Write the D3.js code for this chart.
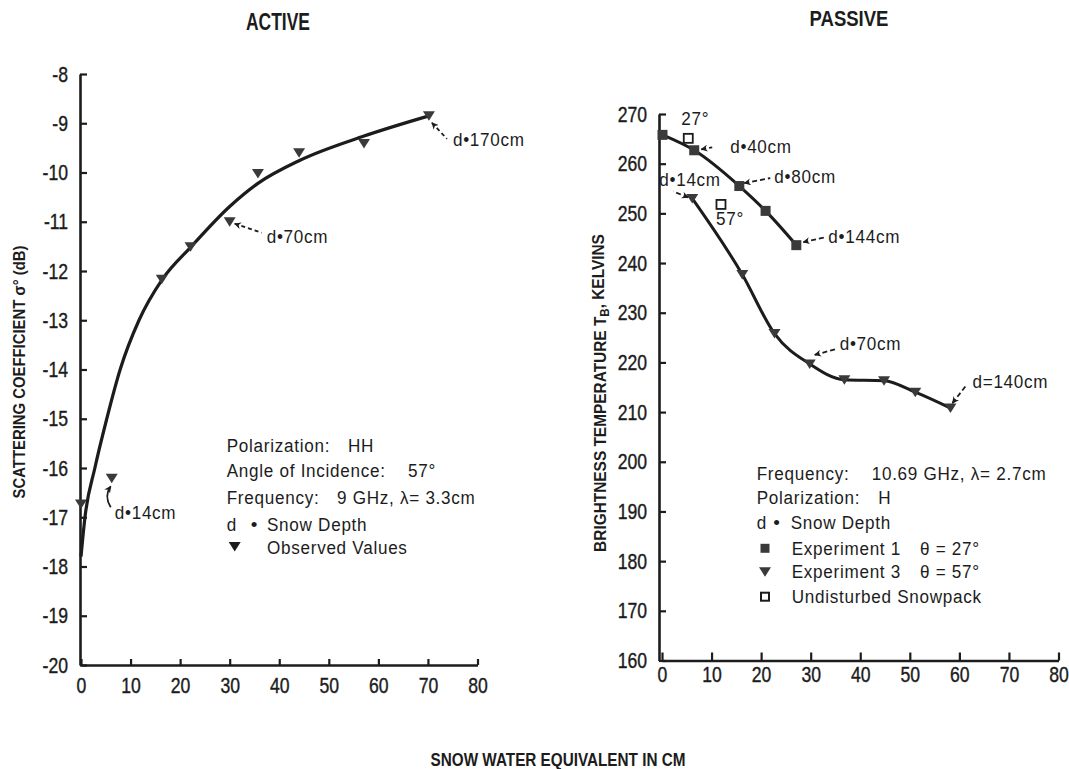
<!DOCTYPE html>
<html><head><meta charset="utf-8">
<script src="https://cdn.jsdelivr.net/npm/d3@7"></script>
<style>
html,body{margin:0;padding:0;background:#fff;}
svg{display:block;}
</style></head><body>
<svg id="chart" width="1069" height="769"></svg>
<script>
// ---------------- data ----------------
const xTicks = [0, 10, 20, 30, 40, 50, 60, 70, 80];
const activeYTicks = [-8, -9, -10, -11, -12, -13, -14, -15, -16, -17, -18, -19, -20];
const passiveYTicks = [160, 170, 180, 190, 200, 210, 220, 230, 240, 250, 260, 270];

// ACTIVE: observed scattering coefficient (dB) vs snow water equivalent (cm)
const activeSWE   = [0, 6.2, 16.3, 22.1, 30.0, 35.7, 44.0, 57.1, 70.2];
const activeSigma = [-16.73, -16.21, -12.17, -11.51, -11.0, -10.02, -9.6, -9.41, -8.85];
// ACTIVE: fitted curve
const activeFitSWE   = [0, 0.8, 2.8, 5.2, 7.9, 11.7, 16.4, 22.2, 30.0, 35.7, 44.2, 57.1, 70.2];
const activeFitSigma = [-17.8, -17, -16, -15, -14, -13, -12.17, -11.51, -10.69, -10.22, -9.75, -9.26, -8.85];

// PASSIVE: brightness temperature (K)
const exp1SWE = [0.1, 6.5, 15.6, 20.9, 27.1];
const exp1TB  = [265.8, 262.7, 255.5, 250.5, 243.6];
const exp3SWE = [6.1, 16.2, 22.7, 29.8, 36.8, 44.8, 51.1, 58.2];
const exp3TB  = [253.0, 237.7, 225.8, 219.7, 216.5, 216.3, 214.0, 210.8];
const undisturbedSWE = [5.3, 11.9];
const undisturbedTB  = [265.1, 251.8];
const undisturbedAngles = ["27°", "57°"];

// depth notes and the index of the point each one marks
const activeNotes = ["d•14cm", "d•70cm", "d•170cm"];
const activeNoteIdx = [1, 4, 8];
const exp1Notes = ["d•40cm", "d•80cm", "d•144cm"];
const exp1NoteIdx = [1, 2, 4];
const exp3Notes = ["d•14cm", "d•70cm", "d=140cm"];
const exp3NoteIdx = [0, 3, 7];

const activeLegend = ["Polarization:", "Angle of Incidence:", "Frequency:", "d", "Observed Values"];
const activeLegendVals = ["HH", "57°", "9 GHz, λ= 3.3cm", "Snow Depth", ""];
const passiveLegend = ["Frequency:", "Polarization:", "d", "Experiment 1", "Experiment 3", "Undisturbed Snowpack"];
const passiveLegendVals = ["10.69 GHz, λ= 2.7cm", "H", "Snow Depth", "θ = 27°", "θ = 57°", ""];

// ---------------- drawing ----------------
const FONT = "'Liberation Sans', Arial, sans-serif";
const INK = "#1c1c1c";
const MARK = "#3a3a3a";
const svg = d3.select("#chart");
svg.append("rect").attr("width", 1069).attr("height", 769).attr("fill", "#fff");

const defs = svg.append("defs");
defs.append("marker").attr("id", "arr").attr("viewBox", "0 0 10 10")
  .attr("refX", 9).attr("refY", 5).attr("markerWidth", 7).attr("markerHeight", 7)
  .attr("markerUnits", "userSpaceOnUse").attr("orient", "auto-start-reverse")
  .append("path").attr("d", "M10,5 L0,0 L3,5 L0,10 Z").attr("fill", INK);

const triPath = "M-6,-4.5 L6,-4.5 L0,5 Z";
const sqPath = "M-5,-5 L5,-5 L5,5 L-5,5 Z";

// narrow text helper
function T(x, y, str, o = {}) {
  const g = svg.append("g").attr("transform",
    `translate(${x},${y})` + (o.rot ? ` rotate(${o.rot})` : "") + ` scale(${o.sx ?? 0.9},1)`);
  const t = g.append("text").attr("dy", o.dy ?? "0.35em")
    .attr("font-family", FONT).attr("font-size", o.size ?? 19)
    .attr("letter-spacing", o.ls ?? 0.8).attr("text-anchor", o.anchor ?? "start")
    .attr("font-weight", o.weight ?? 400).attr("fill", INK).text(str);
  return {g, t};
}
// bold label fitted to a measured width
function boldLabel(cx, cy, str, size, width, rot, build) {
  const g = svg.append("g");
  const t = g.append("text").attr("dy", "0.35em").attr("text-anchor", "middle")
    .attr("font-family", FONT).attr("font-weight", 700).attr("font-size", size).attr("fill", INK).text(str);
  if (build) build(t);
  const w = t.node().getComputedTextLength();
  g.attr("transform", `translate(${cx},${cy})` + (rot ? ` rotate(${rot})` : "") + ` scale(${width / w},1)`);
}

function styleAxis(g, fs) {
  g.select(".domain").attr("stroke", INK).attr("stroke-width", 2.6);
  g.selectAll(".tick line").attr("stroke", INK).attr("stroke-width", 2.2);
  g.selectAll(".tick text").each(function () {
    const s = d3.select(this);
    const x = +s.attr("x") || 0, y = +s.attr("y") || 0;
    s.attr("x", 0).attr("y", 0).attr("transform", `translate(${x},${y}) scale(0.8,1)`)
      .attr("font-family", FONT).attr("font-size", fs).attr("fill", INK)
      .attr("stroke", INK).attr("stroke-width", 0.4);
  });
}

// ---- ACTIVE ----
const xA = d3.scaleLinear().domain([0, 80]).range([81, 477.5]);
const yA = d3.scaleLinear().domain([-20, -8]).range([665, 74]);

svg.append("g").attr("transform", `translate(${xA(0) - 1},0)`)
  .call(d3.axisLeft(yA).tickValues(activeYTicks).tickSizeInner(-7).tickSizeOuter(0)
    .tickPadding(12).tickFormat(d => String(d)))
  .call(g => styleAxis(g, 22));
svg.append("g").attr("transform", `translate(0,${yA(-20)})`)
  .call(d3.axisBottom(xA).tickValues(xTicks).tickSizeInner(-6).tickSizeOuter(0)
    .tickPadding(12).tickFormat(d => String(d)))
  .call(g => styleAxis(g, 22));

const lineA = d3.line().x(d => xA(d[0])).y(d => yA(d[1])).curve(d3.curveMonotoneX);
svg.append("path").datum(activeFitSWE.map((v, i) => [v, activeFitSigma[i]]))
  .attr("d", lineA).attr("fill", "none").attr("stroke", INK).attr("stroke-width", 3.2);

svg.append("g").selectAll("path").data(activeSWE.map((v, i) => [v, activeSigma[i]])).join("path")
  .attr("d", triPath).attr("fill", MARK)
  .attr("transform", d => `translate(${xA(d[0])},${yA(d[1])})`);

// notes (layout offsets from the marked point)
const activeNoteLayout = [
  {curve: true, text: [3, 34]},
  {from: [5, 2], to: [32, 11], text: [37, 15]},
  {from: [3, 7], to: [18, 23], text: [24, 23]}
];
activeNotes.forEach((t, k) => {
  const i = activeNoteIdx[k], L = activeNoteLayout[k];
  const px = xA(activeSWE[i]), py = yA(activeSigma[i]);
  if (L.curve) {
    svg.append("path").attr("d", `M${px - 1},${py + 8} Q${px - 8},${py + 18} ${px - 1},${py + 29}`)
      .attr("fill", "none").attr("stroke", INK).attr("stroke-width", 1.8)
      .attr("marker-start", "url(#arr)");
  } else {
    svg.append("line").attr("x1", px + L.from[0]).attr("y1", py + L.from[1])
      .attr("x2", px + L.to[0]).attr("y2", py + L.to[1])
      .attr("stroke", INK).attr("stroke-width", 1.8).attr("stroke-dasharray", "4,3")
      .attr("marker-start", "url(#arr)");
  }
  T(px + L.text[0], py + L.text[1], t);
});

// active legend
const aLegX = 226.7, aValX = [348, 408, 337, 267, 267];
const aLegY = [445, 470, 497, 524, 547.5];
activeLegend.forEach((t, k) => {
  const isMark = k === 4;
  if (isMark) {
    svg.append("path").attr("d", triPath).attr("fill", INK)
      .attr("transform", `translate(${aLegX + 8},${aLegY[k] - 1})`);
  }
  T(isMark ? aValX[k] : aLegX, aLegY[k], t);
  if (k === 3) T(254, aLegY[k], "•", {anchor: "middle", sx: 1, ls: 0});
  if (activeLegendVals[k]) T(aValX[k], aLegY[k], activeLegendVals[k]);
});

// ---- PASSIVE ----
const xP = d3.scaleLinear().domain([0, 80]).range([662, 1058.5]);
const yP = d3.scaleLinear().domain([160, 270]).range([660.5, 114]);

svg.append("g").attr("transform", `translate(${xP(0) - 3},0)`)
  .call(d3.axisLeft(yP).tickValues(passiveYTicks).tickSizeInner(-7).tickSizeOuter(0)
    .tickPadding(12).tickFormat(d => String(d)))
  .call(g => styleAxis(g, 22));
svg.append("g").attr("transform", `translate(0,${yP(160)})`)
  .call(d3.axisBottom(xP).tickValues(xTicks).tickSizeInner(-8).tickSizeOuter(0)
    .tickPadding(6).tickFormat(d => String(d)))
  .call(g => styleAxis(g, 22));

const lineP = d3.line().x(d => xP(d[0])).y(d => yP(d[1])).curve(d3.curveMonotoneX);
svg.append("path").datum(exp1SWE.map((v, i) => [v, exp1TB[i]]))
  .attr("d", lineP).attr("fill", "none").attr("stroke", INK).attr("stroke-width", 3);
svg.append("path").datum(exp3SWE.map((v, i) => [v, exp3TB[i]]))
  .attr("d", lineP).attr("fill", "none").attr("stroke", INK).attr("stroke-width", 3);

svg.append("g").selectAll("path").data(exp1SWE.map((v, i) => [v, exp1TB[i]])).join("path")
  .attr("d", sqPath).attr("fill", MARK)
  .attr("transform", d => `translate(${xP(d[0])},${yP(d[1])})`);
svg.append("g").selectAll("path").data(exp3SWE.map((v, i) => [v, exp3TB[i]])).join("path")
  .attr("d", triPath).attr("fill", MARK)
  .attr("transform", d => `translate(${xP(d[0])},${yP(d[1])})`);
svg.append("g").selectAll("rect").data(undisturbedSWE.map((v, i) => [v, undisturbedTB[i]])).join("rect")
  .attr("x", d => xP(d[0]) - 4.5).attr("y", d => yP(d[1]) - 4.5).attr("width", 9).attr("height", 9)
  .attr("fill", "#fff").attr("stroke", INK).attr("stroke-width", 1.8);
const angleOff = [[7, -20], [9, 14]];
undisturbedAngles.forEach((t, i) => {
  T(xP(undisturbedSWE[i]) + angleOff[i][0], yP(undisturbedTB[i]) + angleOff[i][1], t, {anchor: "middle"});
});

function passiveNote(t, px, py, L) {
  svg.append("line").attr("x1", px + L.from[0]).attr("y1", py + L.from[1])
    .attr("x2", px + L.to[0]).attr("y2", py + L.to[1])
    .attr("stroke", INK).attr("stroke-width", 1.8).attr("stroke-dasharray", "5,3")
    .attr("marker-start", "url(#arr)");
  T(px + L.text[0], py + L.text[1], t);
}
const exp1NoteLayout = [
  {from: [7, -1], to: [18, -3], text: [36, -4]},
  {from: [5, -3], to: [31, -8], text: [35, -10]},
  {from: [7, -3], to: [29, -8], text: [32, -9]}
];
exp1Notes.forEach((t, k) => {
  const i = exp1NoteIdx[k];
  passiveNote(t, xP(exp1SWE[i]), yP(exp1TB[i]), exp1NoteLayout[k]);
});
const exp3NoteLayout = [
  {from: [-4, -1], to: [-19, -7], text: [-33, -19]},
  {from: [5, -9], to: [27, -15], text: [30, -21]},
  {from: [2, -5], to: [16, -23], text: [22, -27]}
];
exp3Notes.forEach((t, k) => {
  const i = exp3NoteIdx[k];
  passiveNote(t, xP(exp3SWE[i]), yP(exp3TB[i]), exp3NoteLayout[k]);
});

// passive legend
const pLegX = 756.7;
const pValX = [871.7, 878.3, 790.7, 920, 920, 0];
const pLegY = [473.3, 497.3, 522.7, 548.3, 571.7, 596.7];
passiveLegend.forEach((t, k) => {
  const markRow = k >= 3;
  const mx = 765, my = pLegY[k];
  if (k === 3) svg.append("path").attr("d", "M-4.5,-4.5 L4.5,-4.5 L4.5,4.5 L-4.5,4.5 Z").attr("fill", MARK).attr("transform", `translate(${mx},${my})`);
  if (k === 4) svg.append("path").attr("d", triPath).attr("fill", MARK).attr("transform", `translate(${mx},${my})`);
  if (k === 5) svg.append("rect").attr("x", mx - 4).attr("y", my - 4).attr("width", 8).attr("height", 8)
    .attr("fill", "#fff").attr("stroke", INK).attr("stroke-width", 2);
  T(markRow ? 791.7 : pLegX, pLegY[k], t);
  if (k === 2) T(776.7, pLegY[k], "•", {anchor: "middle", sx: 1, ls: 0});
  if (passiveLegendVals[k]) T(pValX[k], pLegY[k], passiveLegendVals[k]);
});

// ---- titles & axis labels ----
boldLabel(278, 22, "ACTIVE", 23, 64);
boldLabel(849, 18, "PASSIVE", 23, 79);
boldLabel(558, 759, "SNOW WATER EQUIVALENT IN CM", 19, 255);
boldLabel(19, 372, "SCATTERING COEFFICIENT σ° (dB)", 16, 253, -90);
boldLabel(600, 393, "BRIGHTNESS TEMPERATURE T", 16, 318, -90, t => {
  t.append("tspan").attr("font-size", 12).attr("dy", "0.3em").text("B");
  t.append("tspan").attr("dy", "-0.3em").text(",  KELVINS");
});
</script>
</body></html>
